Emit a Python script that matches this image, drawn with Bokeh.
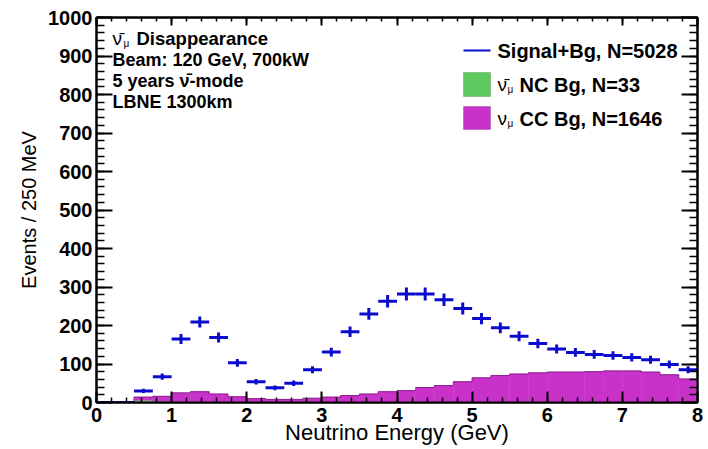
import math
from bokeh.plotting import figure
from bokeh.models import Range1d, LinearAxis, SingleIntervalTicker, Label, BoxAnnotation
from bokeh.embed import file_html
from bokeh.resources import INLINE

# ---------------- data ----------------
bin_lo = [0.0, 0.25, 0.5, 0.75, 1.0, 1.25, 1.5, 1.75, 2.0, 2.25, 2.5, 2.75,
          3.0, 3.25, 3.5, 3.75, 4.0, 4.25, 4.5, 4.75, 5.0, 5.25, 5.5, 5.75,
          6.0, 6.25, 6.5, 6.75, 7.0, 7.25, 7.5, 7.75]
bin_hi = [0.25, 0.5, 0.75, 1.0, 1.25, 1.5, 1.75, 2.0, 2.25, 2.5, 2.75, 3.0,
          3.25, 3.5, 3.75, 4.0, 4.25, 4.5, 4.75, 5.0, 5.25, 5.5, 5.75, 6.0,
          6.25, 6.5, 6.75, 7.0, 7.25, 7.5, 7.75, 8.0]
signal_bg = [0, 0, 30, 67, 165, 209, 169, 103, 54, 38, 50, 85,
             131, 184, 230, 263, 282, 282, 267, 244, 218, 194, 172, 153,
             139, 130, 125, 122, 117, 111, 99, 85]
nc_bg = [0, 0, 6, 3, 2, 2, 1, 1, 1, 1, 1, 1,
         1, 1, 1, 1, 1, 1, 1, 1, 1, 1, 1, 1,
         1, 1, 1, 1, 1, 1, 1, 1]
cc_bg = [0, 0, 8, 13, 23, 26, 21, 14, 9, 7, 7, 10,
         13, 17, 21, 27, 30, 38, 43, 53, 63, 69, 73, 76,
         78, 78, 79, 81, 81, 78, 71, 60]
x_ticks_interval = 1
y_ticks_interval = 100

FONT = "Liberation Sans"
BLUE = "#0b0bd0"
MAGENTA = "#c832c8"
MAGENTA_DARK = "#8e1f8e"
GREEN = "#5ec85e"

# page-pixel -> data helpers for annotation placement
X0P, X1P = 96.0, 697.0
Y0P, Y1P = 402.0, 17.0


def dx(px):
    return (px - X0P) / (X1P - X0P) * 8.0


def dy(py):
    return (Y0P - py) / (Y0P - Y1P) * 1000.0


p = figure(width=708, height=449, x_range=Range1d(0, 8), y_range=Range1d(0, 1000),
           output_backend="svg", toolbar_location=None,
           min_border_left=96, min_border_right=11, min_border_top=17, min_border_bottom=47)
p.background_fill_color = "white"
p.border_fill_color = "white"
p.grid.visible = False
p.outline_line_color = "black"
p.outline_line_width = 2

# ---------------- histograms ----------------
centers = [(a + b) / 2 for a, b in zip(bin_lo, bin_hi)]
stack_top = [n + c for n, c in zip(nc_bg, cc_bg)]
p.quad(left=bin_lo, right=bin_hi, bottom=[0] * len(nc_bg), top=nc_bg,
       fill_color=GREEN, line_color=GREEN, line_width=0.5)
p.quad(left=bin_lo, right=bin_hi, bottom=nc_bg, top=stack_top,
       fill_color=MAGENTA, line_color=MAGENTA, line_width=0.5)
p.step(x=bin_lo + [bin_hi[-1]], y=stack_top + [stack_top[-1]], mode="after",
       line_color=MAGENTA_DARK, line_width=1)

# ---------------- signal points with errors ----------------
err = [math.sqrt(v) for v in signal_bg]
p.segment(x0=bin_lo, x1=bin_hi, y0=signal_bg, y1=signal_bg, line_color=BLUE, line_width=3)
p.segment(x0=centers, x1=centers, y0=[v - e for v, e in zip(signal_bg, err)],
          y1=[v + e for v, e in zip(signal_bg, err)], line_color=BLUE, line_width=3)

# ---------------- axes ----------------
p.xaxis.ticker = SingleIntervalTicker(interval=x_ticks_interval, num_minor_ticks=5)
p.yaxis.ticker = SingleIntervalTicker(interval=y_ticks_interval, num_minor_ticks=5)

for ax in (p.xaxis[0], p.yaxis[0]):
    ax.axis_line_width = 2
    ax.axis_line_color = "black"
    ax.major_tick_out = 0
    ax.minor_tick_out = 0
    ax.major_tick_line_width = 2
    ax.minor_tick_line_width = 1.5
    ax.major_label_text_font = FONT
    ax.major_label_text_font_style = "bold"
    ax.major_label_text_font_size = "20px"
    ax.major_label_text_color = "black"
    ax.axis_label_text_font = FONT
    ax.axis_label_text_font_style = "normal"
    ax.axis_label_text_color = "black"

p.xaxis.major_tick_in = 11
p.xaxis.minor_tick_in = 5
p.xaxis.major_label_standoff = 5
p.xaxis.axis_label = "Neutrino Energy (GeV)"
p.xaxis.axis_label_text_font_size = "22px"
p.xaxis.axis_label_standoff = -5

p.yaxis.major_tick_in = 16
p.yaxis.minor_tick_in = 8
p.yaxis.major_label_standoff = 4
p.yaxis.axis_label = "Events / 250 MeV"
p.yaxis.axis_label_text_font_size = "20px"
p.yaxis.axis_label_standoff = 5

top_ax = LinearAxis(ticker=SingleIntervalTicker(interval=x_ticks_interval, num_minor_ticks=5),
                    major_label_text_font_size="0px", major_label_standoff=0,
                    major_tick_out=0, minor_tick_out=0, major_tick_in=8, minor_tick_in=4,
                    major_tick_line_width=2, minor_tick_line_width=1.5,
                    axis_line_width=2)
right_ax = LinearAxis(ticker=SingleIntervalTicker(interval=y_ticks_interval, num_minor_ticks=5),
                      major_label_text_font_size="0px", major_label_standoff=0,
                      major_tick_out=0, minor_tick_out=0, major_tick_in=16, minor_tick_in=8,
                      major_tick_line_width=2, minor_tick_line_width=1.5,
                      axis_line_width=2)
p.add_layout(top_ax, "above")
p.add_layout(right_ax, "right")


def lab(xp, yp, txt, size="18px", style="bold", align="left"):
    p.add_layout(Label(x=dx(xp), y=dy(yp), text=txt, text_align=align, text_baseline="middle",
                       text_font=FONT, text_font_style=style, text_font_size=size,
                       text_color="black"))


NUBAR = "\u03bd\u0304"
NU = "\u03bd"
MU = "\u03bc"

# ---------------- info text ----------------
tx = 112
lab(tx, 38, NUBAR, size="19px", style="normal")
lab(tx + 11, 43, MU, size="10px", style="normal")
lab(tx + 24, 38, "Disappearance", size="18.5px")
lab(tx, 59, "Beam: 120 GeV, 700kW")
lab(tx, 80, "5 years " + NUBAR + "-mode")
lab(tx, 101, "LBNE 1300km")

# ---------------- legend ----------------
p.segment(x0=[dx(463)], x1=[dx(490)], y0=[dy(50)], y1=[dy(50)], line_color=BLUE, line_width=2)
p.add_layout(BoxAnnotation(left=dx(463), right=dx(490), top=dy(72), bottom=dy(96),
                           fill_color=GREEN, fill_alpha=1, line_color="#3c7a3c", line_width=1))
p.add_layout(BoxAnnotation(left=dx(463), right=dx(490), top=dy(106), bottom=dy(129),
                           fill_color=MAGENTA, fill_alpha=1, line_color="#7a1f7a", line_width=1))
lab(497, 50, "Signal+Bg, N=5028", size="20px")
lab(497, 84, NUBAR, size="19px", style="normal")
lab(507, 89, MU, size="10px", style="normal")
lab(519, 84, "NC Bg, N=33", size="20px")
lab(497, 118, NU, size="19px", style="normal")
lab(507, 123, MU, size="10px", style="normal")
lab(519, 118, "CC Bg, N=1646", size="20px")

open("out.html", "w").write(file_html(p, INLINE))
